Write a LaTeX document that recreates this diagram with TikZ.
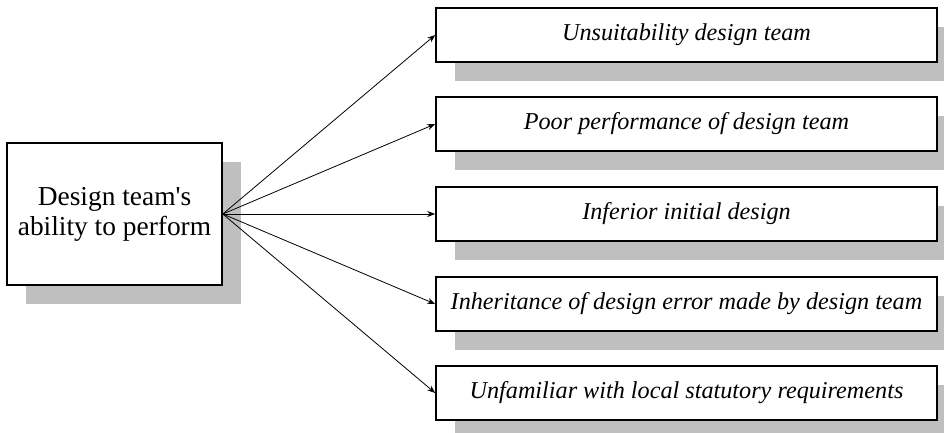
\documentclass[tikz,border=0pt]{standalone}
\usepackage{fontspec}
\setmainfont{Liberation Serif}[Ligatures=TeXOff]
\usepackage{tikz}
\usetikzlibrary{arrows.meta, shadows}
\definecolor{shade}{gray}{0.75}

\begin{document}
\begin{tikzpicture}[x=1pt, y=-1pt,
  box/.style={draw, line width=1.6pt, fill=white, inner sep=0pt,
    drop shadow={shadow xshift=19pt, shadow yshift=-19pt, fill=shade, opacity=1}},
  link/.style={line width=0.8pt, -{Stealth[length=8pt, width=6pt]}}]
\useasboundingbox (0,0) rectangle (944,432);
\clip (0,0) rectangle (944,432);
\node[box, minimum width=215pt, minimum height=142pt, align=center, font=\fontsize{27.4}{30}\selectfont]
  (ability) at (114.5,214) {Design team's\\ability to perform};
\foreach \name/\y/\txt in {unsuit/35/Unsuitability design team,
  poor/124/Poor performance of design team,
  inferior/214/Inferior initial design,
  inherit/304/Inheritance of design error made by design team,
  unfam/393/Unfamiliar with local statutory requirements}{
\node[box, minimum width=501pt, minimum height=54pt, font=\fontsize{24.2}{28}\selectfont\itshape]
  (\name) at (686.5,\y) {\txt};
\draw[link] (ability.east) -- (\name.west);
}
\end{tikzpicture}
\end{document}
